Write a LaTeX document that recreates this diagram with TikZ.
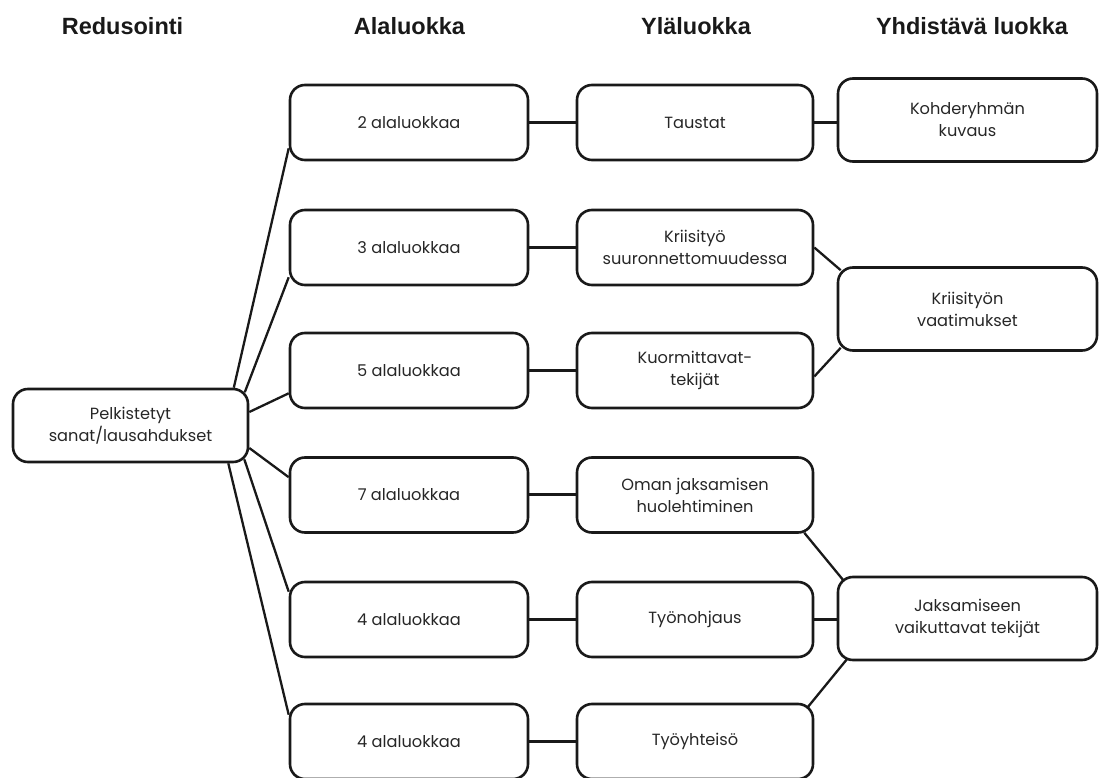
\documentclass[tikz,border=0pt]{standalone}
\usepackage{fontspec}
\setmainfont{Poppins}
\newfontfamily\otsikkofontti{Liberation Sans}
\definecolor{reuna}{gray}{0.1}
\definecolor{teksti}{gray}{0.15}
\tikzset{
	laatikko/.style={draw=reuna, line width=2.6pt, rounded corners=15pt, align=center, inner sep=0pt, text=teksti, font=\fontsize{16.2}{22}\selectfont},
	pelk/.style={laatikko, minimum width=235pt, minimum height=73pt},
	ala/.style={laatikko, minimum width=238pt, minimum height=75pt},
	yla/.style={laatikko, minimum width=236pt, minimum height=75pt},
	yhd/.style={laatikko, minimum width=259pt, minimum height=83pt},
	otsikko/.style={anchor=base, text=black!90, font=\otsikkofontti\bfseries\fontsize{23.5}{28}\selectfont},
	yhteys/.style={draw=reuna, line width=2.3pt}
}

\begin{document}
\begin{tikzpicture}[x=1pt,y=1pt]
		\useasboundingbox (0,0) rectangle (1101,-778);
		\node[otsikko] (o1) at (122.5,-35) {Redusointi};
		\node[otsikko] (o2) at (409.5,-35) {Alaluokka};
		\node[otsikko] (o3) at (696,-35) {Yläluokka};
		\node[otsikko] (o4) at (972,-35) {Yhdistävä luokka};
		\node[pelk] (pelk) at (130.5,-425.5) {Pelkistetyt\\sanat/lausahdukset};
		\node[ala] (a1) at (409,-122.5) {2 alaluokkaa};
		\node[ala] (a2) at (409,-247.5) {3 alaluokkaa};
		\node[ala] (a3) at (409,-370.5) {5 alaluokkaa};
		\node[ala] (a4) at (409,-495) {7 alaluokkaa};
		\node[ala] (a5) at (409,-619.5) {4 alaluokkaa};
		\node[ala] (a6) at (409,-741.5) {4 alaluokkaa};
		\node[yla] (y1) at (695,-122.5) {Taustat};
		\node[yla] (y2) at (695,-247.5) {Kriisityö\\suuronnettomuudessa};
		\node[yla] (y3) at (695,-370.5) {Kuormittavat-\\tekijät};
		\node[yla] (y4) at (695,-495) {Oman jaksamisen\\huolehtiminen};
		\node[yla] (y5) at (695,-619.5) {Työnohjaus};
		\node[yla] (y6) at (695,-741.5) {Työyhteisö};
		\node[yhd] (k1) at (967.5,-120) {Kohderyhmän\\kuvaus};
		\node[yhd] (k2) at (967.5,-309) {Kriisityön\\vaatimukset};
		\node[yhd] (k3) at (967.5,-618.5) {Jaksamiseen\\vaikuttavat tekijät};
		\draw[yhteys] ([xshift=-15.5]pelk.north east) -- ([yshift=13]a1.south west);
		\draw[yhteys] ([shift={(-4.5,-4.5)}]pelk.north east) -- ([yshift=9]a2.south west);
		\draw[yhteys] ([yshift=13.5]pelk.east) -- ([yshift=16]a3.south west);
		\draw[yhteys] ([yshift=-22.5]pelk.east) -- ([yshift=-21]a4.north west);
		\draw[yhteys] ([shift={(-5,4)}]pelk.south east) -- ([yshift=-11]a5.north west);
		\draw[yhteys] ([xshift=-21]pelk.south east) -- ([yshift=-12]a6.north west);
		\draw[yhteys] (a1.east) -- (y1.west);
		\draw[yhteys] (a2.east) -- (y2.west);
		\draw[yhteys] (a3.east) -- (y3.west);
		\draw[yhteys] ([yshift=0.5]a4.east) -- ([yshift=0.5]y4.west);
		\draw[yhteys] (a5.east) -- (y5.west);
		\draw[yhteys] (a6.east) -- (y6.west);
		\draw[yhteys] (y1.east) -- (y1.east -| k1.west);
		\draw[yhteys] (y2.east) -- ([shift={(4,-4)}]k2.north west);
		\draw[yhteys] ([yshift=-6]y3.east) -- ([shift={(4,4)}]k2.south west);
		\draw[yhteys] ([shift={(-10,1)}]y4.south east) -- ([shift={(7,-5)}]k3.north west);
		\draw[yhteys] (y5.east) -- (y5.east -| k3.west);
		\draw[yhteys] ([shift={(-7,-5)}]y6.north east) -- ([shift={(11,3)}]k3.south west);
	\end{tikzpicture}
\end{document}
